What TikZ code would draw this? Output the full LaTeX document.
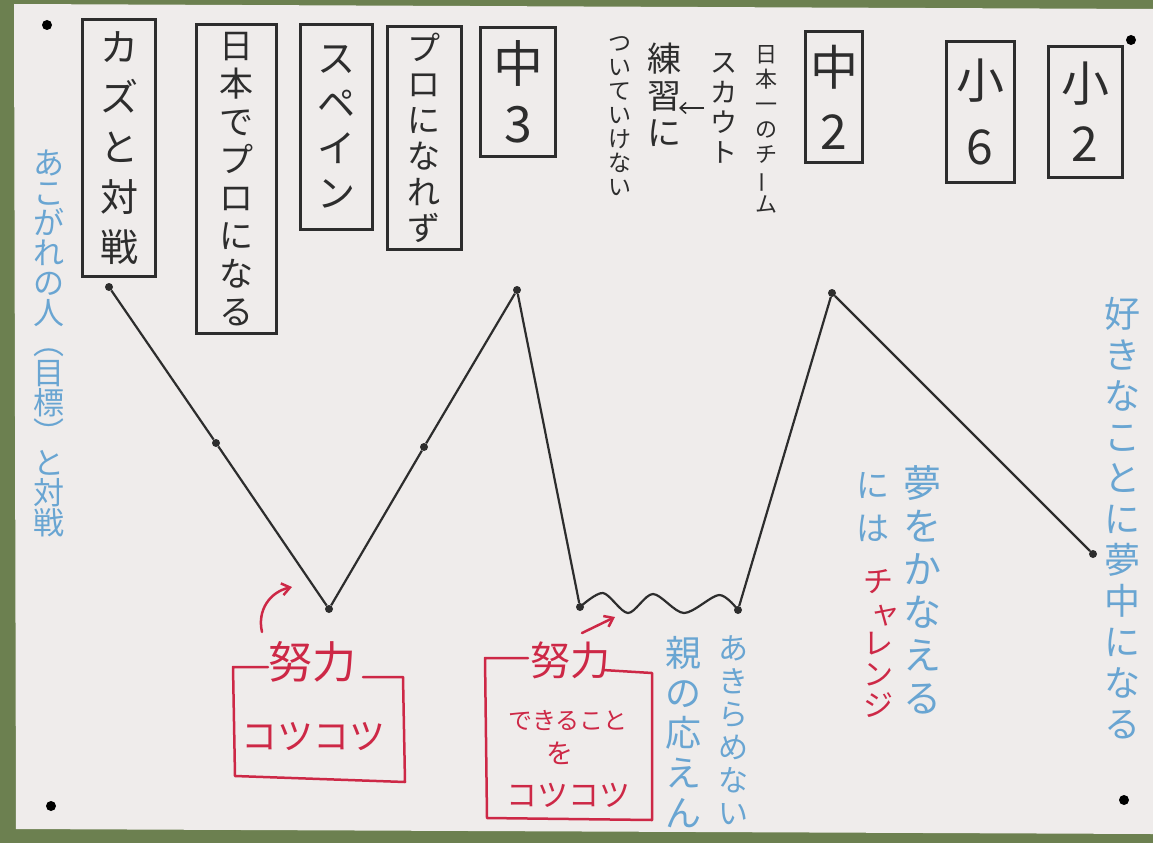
\documentclass[tikz,border=0pt]{standalone}
\usepackage{fontspec}
\newfontfamily\jp{Noto Sans CJK JP}
\usetikzlibrary{arrows.meta}

\definecolor{ink}{RGB}{45,45,45}
\definecolor{pen}{RGB}{205,40,70}
\definecolor{sky}{RGB}{105,165,210}
\definecolor{paper}{RGB}{239,236,235}
\definecolor{board}{RGB}{108,128,80}
\definecolor{pin}{RGB}{120,105,65}
\newcommand{\vfont}[2]{\fontsize{#1}{#2}\selectfont\jp}

\tikzset{
 tag/.style={draw=ink,line width=3pt,inner sep=0pt,align=center,text=ink},
 note/.style={inner sep=0pt,align=center},
 dot/.style={circle,fill=ink,inner sep=0pt,minimum size=8pt},
 life/.style={ink,line width=2.2pt,line join=round},
 redline/.style={pen,line width=2.5pt,line cap=round,line join=round},
}

\begin{document}
\begin{tikzpicture}[x=1pt,y=-1pt]
 \useasboundingbox (0,0) rectangle (1153,843);
 \fill[board] (0,0) rectangle (1153,843);
 \fill[paper] (14,4) -- (1153,9) -- (1153,834) -- (16,829) -- cycle;
 \foreach \p in {(47,25),(1131,40),(51,806),(1124,800)} \fill[pin] \p circle (5pt);

 \node[tag,minimum width=73pt,minimum height=257pt,font=\vfont{38}{50}] (kazu) at (119,148) {カ\\ズ\\と\\対\\戦};
 \node[tag,minimum width=80pt,minimum height=308pt,font=\vfont{34}{38}] (nihon) at (236,179) {日\\本\\で\\プ\\ロ\\に\\な\\る};
 \node[tag,minimum width=72pt,minimum height=205pt,font=\vfont{38}{45}] (spain) at (336,127) {ス\\ペ\\イ\\ン};
 \node[tag,minimum width=74pt,minimum height=223pt,font=\vfont{33}{36}] (nopro) at (424,138) {プ\\ロ\\に\\な\\れ\\ず};
 \node[tag,minimum width=75pt,minimum height=129pt,font=\vfont{50}{60}] (chu3) at (518,92) {中\\3};
 \node[tag,minimum width=57pt,minimum height=131pt,font=\vfont{48}{64}] (chu2) at (834,97) {中\\2};
 \node[tag,minimum width=68pt,minimum height=140pt,font=\vfont{48}{66}] (sho6) at (980,112) {小\\6};
 \node[tag,minimum width=74pt,minimum height=130pt,font=\vfont{48}{60}] (sho2) at (1085,112) {小\\2};

 \node[note,text=ink,font=\vfont{22}{25}] (team) at (766,129) {日\\本\\一\\の\\チ\\\rotatebox[origin=c]{90}{ー}\\ム};
 \node[note,text=ink,font=\vfont{27}{30}] (scout) at (724,108) {ス\\カ\\ウ\\ト};
 \node[note,text=ink,font=\vfont{34}{37}] (practice) at (664,95) {練\\習\\に};
 \node[note,text=ink,font=\vfont{23}{24}] (behind) at (620,116) {つ\\い\\て\\い\\け\\な\\い};
 \coordinate (arrS) at (704,108);
 \coordinate (arrE) at (679,108);
 \draw[ink,line width=1.5pt,-{Straight Barb[length=6pt,width=11pt]}] (arrS) -- (arrE);

 \node[note,text=sky,font=\vfont{31}{30}] (idol) at (49,343) {あ\\こ\\が\\れ\\の\\人\\︵\\目\\標\\︶\\と\\対\\戦};
 \node[note,text=sky,font=\vfont{36}{41}] (hobby) at (1122,518) {好\\き\\な\\こ\\と\\に\\夢\\中\\に\\な\\る};
 \node[note,text=sky,font=\vfont{38}{43}] (dream) at (922,590) {夢\\を\\か\\な\\え\\る};
 \node[note,text=sky,font=\vfont{33}{43}] (niha) at (873,507) {に\\は};
 \node[note,text=pen,font=\vfont{30}{31}] (challenge) at (878,643) {チ\\\hspace*{14pt}ャ\\レ\\ン\\ジ};
 \node[note,text=sky,font=\vfont{30}{33}] (nogiveup) at (733,730) {あ\\き\\ら\\め\\な\\い};
 \node[note,text=sky,font=\vfont{36}{40}] (parents) at (683,732) {親\\の\\応\\え\\ん};

 \node[dot] (p1) at (109,287) {};
 \node[dot] (p2) at (216,443) {};
 \node[dot] (p3) at (329,609) {};
 \node[dot] (p4) at (424,447) {};
 \node[dot] (p5) at (517,290) {};
 \node[dot] (p6) at (580,607) {};
 \node[dot] (p7) at (738,610) {};
 \node[dot] (p8) at (832,293) {};
 \node[dot] (p9) at (1093,554) {};
 \draw[life] (p1) -- (p2) -- (p3) -- (p4) -- (p5) -- (p6);
 \draw[life] plot[smooth] coordinates {(p6) (603,593) (628,613) (653,594) (684,613) (719,595) (p7)};
 \draw[life] (p7) -- (p8) -- (p9);

 \node[note,text=pen,font=\vfont{44}{48}] (effort1) at (312,662) {努力};
 \node[note,text=pen,font=\vfont{36}{40}] (steady1) at (313,737) {コツコツ};
 \draw[redline] (268,667) -- (233,667) -- (235,776) -- (405,782) -- (403,677) -- (363,677);
 \coordinate (up1) at (262,632);
 \coordinate (tip1) at (292,587);
 \draw[redline,-{Straight Barb[length=8pt,width=12pt]}] (up1) .. controls (257,610) and (270,592) .. (tip1);

 \node[note,text=pen,font=\vfont{40}{44}] (effort2) at (570,660) {努力};
 \node[note,text=pen,font=\vfont{24}{26}] (can2) at (568,720) {できること};
 \node[note,text=pen,font=\vfont{27}{30}] (wo2) at (560,753) {を};
 \node[note,text=pen,font=\vfont{31}{34}] (steady2) at (568,795) {コツコツ};
 \draw[redline] (528,658) -- (485,658) -- (487,818) -- (652,820) -- (652,673) -- (603,670);
 \coordinate (up2) at (582,633);
 \coordinate (tip2) at (615,617);
 \draw[redline,-{Straight Barb[length=8pt,width=12pt]}] (up2) -- (tip2);
\end{tikzpicture}
\end{document}
